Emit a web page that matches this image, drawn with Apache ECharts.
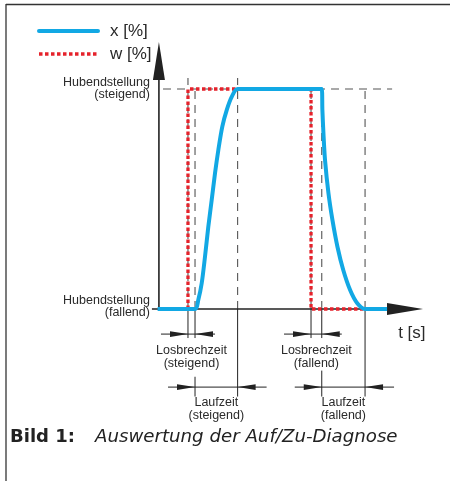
<!DOCTYPE html>
<html>
<head>
<meta charset="utf-8">
<script src="https://cdn.jsdelivr.net/npm/echarts/dist/echarts.min.js"></script>
<style>
html,body{margin:0;padding:0;background:#fff;}
#chart{width:450px;height:481px;}
</style>
</head>
<body>
<div id="chart"></div>
<script>
// ---- data ----
const seriesNames = ['x [%]', 'w [%]'];
// controlled variable x (travel) : time / value
const tX = [-0.5, 13.67, 14.9, 16.2, 17.45, 18.7, 19.98, 21.24, 22.5, 24.0, 25.7, 27.6, 29.8,
            61.66, 61.9, 62.3, 62.9, 64.2, 65.7, 67.6, 69.8, 72.4, 75.1, 78.06, 86.4];
const vX = [0, 0, 4.1, 11.7, 23.8, 37.4, 49.5, 61.7, 72.3, 82.9, 90.5, 96.5, 100,
            100, 90.5, 79.8, 67.7, 52.6, 40.5, 28.3, 17.7, 8.6, 2.6, 0, 0];
// set point w : time / value
const tW = [11.0, 11.0, 57.6, 57.6, 84.9];
const vW = [0, 100, 100, 0, 0];
// event times (vertical guides)
const eventT = [11.0, 13.67, 29.8, 57.6, 61.66, 78.06];
// end positions
const levelValues = [100, 0];
const levelLabels = ['Hubendstellung\n(steigend)', 'Hubendstellung\n(fallend)'];
// interval annotations: [startEventIndex, endEventIndex]
const intervalNames = ['Losbrechzeit\n(steigend)', 'Laufzeit\n(steigend)', 'Losbrechzeit\n(fallend)', 'Laufzeit\n(fallend)'];
const intervalPairs = [[0, 1], [1, 2], [3, 4], [4, 5]];
const axisTitle = 't [s]';
const captionBold = 'Bild 1:';
const captionText = 'Auswertung der Auf/Zu-Diagnose';

// ---- drawing ----
const BLUE = '#12a8e4';
const RED = '#e5222b';
const INK = '#222';
const LABEL_FONT = '"Liberation Sans", Arial, sans-serif';
const X_WIDTH = 4, W_WIDTH = 3.3, W_DASH = [3.5, 2.5];

function renderGuides(params, api) {
  const c = (t, v) => api.coord([t, v]);
  const ch = [];
  const dash = {stroke: '#555', lineWidth: 1.1, lineDash: [8, 6]};
  const solid = {stroke: INK, lineWidth: 1};
  const line = (p1, p2, style) => ch.push({type: 'line', shape: {x1: p1[0], y1: p1[1], x2: p2[0], y2: p2[1]}, style: style});
  const poly = (pts) => ch.push({type: 'polygon', shape: {points: pts}, style: {fill: INK}});
  const text = (str, x, y, align, size, lh) => ch.push({type: 'text', style: {
    text: str, x: x, y: y, align: align, verticalAlign: 'middle',
    fontSize: size, fontFamily: LABEL_FONT, fill: '#2a2a2a', lineHeight: lh}});

  const top = levelValues[0];
  // horizontal dashed upper end position
  line(c(1.55, top), c(88.3, top), dash);
  // vertical dashed guides above the time axis
  eventT.forEach((t, i) => {
    const ext = (i === 0 || i === 2) ? 105 : top;
    line(c(t, 0), c(t, ext), dash);
  });
  // solid extension lines below the axis
  const losV = -11.4, laufV = -35.5;
  const shortEnd = -13.2, longEnd = -39.8;
  line(c(eventT[0], 0), c(eventT[0], shortEnd), solid);
  line(c(eventT[1], 0), c(eventT[1], shortEnd), solid);
  line(c(eventT[1], -30.8), c(eventT[1], longEnd), solid);
  line(c(eventT[2], 0), c(eventT[2], longEnd), solid);
  line(c(eventT[3], 0), c(eventT[3], shortEnd), solid);
  line(c(eventT[4], 0), c(eventT[4], shortEnd), solid);
  line(c(eventT[4], -28), c(eventT[4], longEnd), solid);
  line(c(eventT[5], 0), c(eventT[5], longEnd), solid);

  // dimension arrows
  const AL = 18, AH = 2.8;
  intervalPairs.forEach((pr, k) => {
    const v = (k % 2 === 0) ? losV : laufV;
    const a = c(eventT[pr[0]], v), b = c(eventT[pr[1]], v);
    const rightExt = (k % 2 === 0) ? 20 : 29;
    line([a[0] - 27, a[1]], [b[0] + rightExt, b[1]], solid);
    poly([[a[0], a[1]], [a[0] - AL, a[1] - AH], [a[0] - AL, a[1] + AH]]);
    poly([[b[0], b[1]], [b[0] + AL, b[1] - AH], [b[0] + AL, b[1] + AH]]);
    const mid = c((eventT[pr[0]] + eventT[pr[1]]) / 2, (k % 2 === 0) ? -22 : -45.7);
    text(intervalNames[k], mid[0], mid[1], 'center', 12.5, 13);
  });

  // axes with arrow heads
  const o = c(0, 0);
  const xTip = c(100, 0);
  const yTip = c(0, 121.4);
  const axis = {stroke: INK, lineWidth: 1.6};
  line([o[0] - 7, o[1]], [xTip[0] - 34, o[1]], axis);
  poly([[xTip[0], xTip[1]], [xTip[0] - 36, xTip[1] - 6], [xTip[0] - 36, xTip[1] + 6]]);
  line([o[0], o[1] + 0.5], [o[0], yTip[1] + 36], axis);
  poly([[yTip[0], yTip[1]], [yTip[0] - 6, yTip[1] + 38], [yTip[0] + 6, yTip[1] + 38]]);

  // end position labels
  levelValues.forEach((lv, i) => {
    const p = c(0, lv);
    text(levelLabels[i], p[0] - 9, p[1] + (i === 0 ? 0 : -2), 'right', 12.5, 12);
  });
  // time axis title
  const tp = c(90.6, -10.9);
  text(axisTitle, tp[0], tp[1], 'left', 17, 18);
  return {type: 'group', children: ch};
}

const chart = echarts.init(document.getElementById('chart'), null, {renderer: 'canvas'});
chart.setOption({
  animation: false,
  backgroundColor: '#fff',
  grid: {left: 151, right: 27, top: 34, bottom: 40},
  xAxis: {type: 'value', min: -3, max: 100, show: false},
  yAxis: {type: 'value', min: -60, max: 125, show: false},
  legend: {
    data: [
      {name: seriesNames[0], itemStyle: {opacity: 0}, lineStyle: {color: BLUE, width: X_WIDTH, cap: 'round'}},
      {name: seriesNames[1], itemStyle: {opacity: 0}, lineStyle: {color: RED, width: W_WIDTH, type: W_DASH, cap: 'butt'}}
    ],
    orient: 'vertical',
    left: 37, top: 22.5,
    itemWidth: 59, itemHeight: 14, itemGap: 6,
    padding: 0,
    selectedMode: false,
    itemStyle: {opacity: 0},
    textStyle: {fontSize: 17, fontFamily: LABEL_FONT, color: '#2a2a2a', padding: [0, 0, 0, 7], lineHeight: 17}
  },
  title: {
    left: 10, top: 428, padding: 0,
    text: '{b|' + captionBold + '}{i|' + captionText + '}',
    textStyle: {
      fontWeight: 'normal',
      rich: {
        b: {fontSize: 18, fontWeight: 'bold', fontFamily: '"DejaVu Sans", sans-serif', color: '#222', padding: [0, 20, 0, 0]},
        i: {fontSize: 18.2, fontWeight: 'normal', fontStyle: 'italic', fontFamily: '"DejaVu Sans", sans-serif', color: '#222'}
      }
    }
  },
  graphic: [
    {type: 'line', shape: {x1: 6, y1: 4.5, x2: 450, y2: 4.5}, style: {stroke: '#333', lineWidth: 1.3}},
    {type: 'line', shape: {x1: 6, y1: 4, x2: 6, y2: 481}, style: {stroke: '#333', lineWidth: 1.3}}
  ],
  series: [
    {
      type: 'custom', name: 'guides', z: 1, silent: true, clip: false,
      data: [[0, 0]], renderItem: renderGuides
    },
    {
      type: 'line', name: seriesNames[1], z: 2, symbol: 'none', showSymbol: false,
      data: tW.map((t, i) => [t, vW[i]]),
      itemStyle: {color: RED},
      lineStyle: {color: RED, width: W_WIDTH, type: W_DASH, cap: 'butt'}
    },
    {
      type: 'line', name: seriesNames[0], z: 3, symbol: 'none', showSymbol: false,
      smooth: 0.3,
      data: tX.map((t, i) => [t, vX[i]]),
      itemStyle: {color: BLUE},
      lineStyle: {color: BLUE, width: X_WIDTH, join: 'round'}
    }
  ]
});
</script>
</body>
</html>
